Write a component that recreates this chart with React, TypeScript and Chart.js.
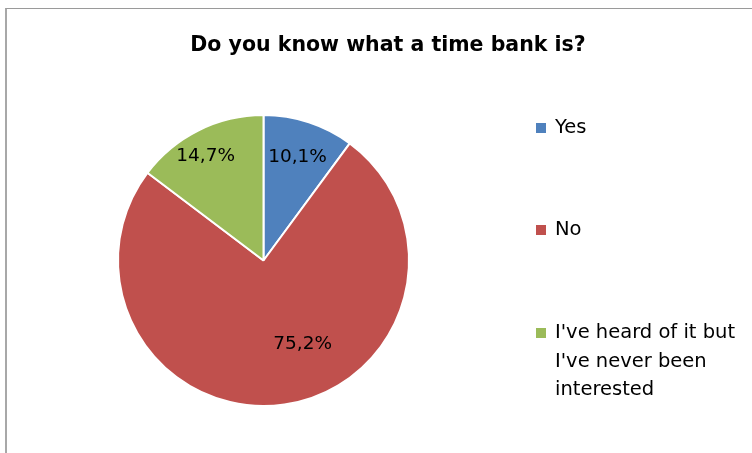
import React, { useEffect, useRef } from "react";
import { Chart, registerables } from "chart.js";

Chart.register(...registerables);

const TITLE = "Do you know what a time bank is?";
const CATEGORIES = ["Yes", "No", "I've heard of it but I've never been interested"];
const LEGEND_LINES = [["Yes"], ["No"], ["I've heard of it but", "I've never been", "interested"]];
const VALUES = [10.1, 75.2, 14.7];
const VALUE_LABELS = ["10,1%", "75,2%", "14,7%"];
const COLORS = ["#4F81BD", "#C0504D", "#9BBB59"];

const FONT = "'DejaVu Sans', sans-serif";

const overlayPlugin = {
  id: "overlay",
  afterDraw(chart: any) {
    const ctx = chart.ctx as CanvasRenderingContext2D;
    ctx.save();
    // title
    ctx.fillStyle = "#000";
    ctx.font = `bold 20.5px ${FONT}`;
    ctx.textAlign = "center";
    ctx.textBaseline = "alphabetic";
    ctx.fillText(TITLE, 388, 51);

    // data labels
    const meta = chart.getDatasetMeta(0);
    const nudges = [
      { f: 0.75, dx: 0, dy: 0 },
      { f: 0.58, dx: 27, dy: 0 },
      { f: 0.8, dx: -6, dy: 0 },
    ];
    ctx.font = `18.5px ${FONT}`;
    ctx.textBaseline = "middle";
    meta.data.forEach((arc: any, i: number) => {
      const { x, y, startAngle, endAngle, outerRadius } = arc.getProps(
        ["x", "y", "startAngle", "endAngle", "outerRadius"],
        true
      );
      const mid = (startAngle + endAngle) / 2;
      const n = nudges[i];
      const px = x + Math.cos(mid) * outerRadius * n.f + n.dx;
      const py = y + Math.sin(mid) * outerRadius * n.f + n.dy;
      ctx.fillText(VALUE_LABELS[i], px, py);
    });

    // legend
    const itemY = [128, 230, 333];
    const lineH = 28.5;
    ctx.textAlign = "left";
    ctx.font = `19.5px ${FONT}`;
    LEGEND_LINES.forEach((lines, i) => {
      ctx.fillStyle = COLORS[i];
      ctx.fillRect(536, itemY[i] - 5, 10, 10);
      ctx.fillStyle = "#000";
      lines.forEach((ln, j) => {
        ctx.fillText(ln, 555, itemY[i] + j * lineH);
      });
    });
    ctx.restore();
  },
};

export default function App() {
  const ref = useRef<HTMLCanvasElement | null>(null);
  useEffect(() => {
    if (!ref.current) return;
    const chart = new Chart(ref.current, {
      type: "pie",
      data: {
        labels: CATEGORIES,
        datasets: [
          {
            data: VALUES,
            backgroundColor: COLORS,
            borderColor: "#ffffff",
            borderWidth: 2,
          },
        ],
      },
      options: {
        animation: false,
        responsive: false,
        layout: { padding: { top: 114, bottom: 46, left: 117, right: 342 } },
        plugins: {
          legend: { display: false },
          title: { display: false },
          tooltip: { enabled: false },
        },
      },
      plugins: [overlayPlugin],
    });
    return () => chart.destroy();
  }, []);

  return (
    <div style={{ position: "fixed", left: 0, top: 0, width: 752, height: 453, background: "#fff", overflow: "hidden" }}>
      <div
        style={{
          position: "absolute",
          left: 5,
          top: 8,
          width: 800,
          height: 500,
          borderTop: "1px solid #9a9a9a",
          borderLeft: "2px solid #a8a8a8",
        }}
      />
      <canvas ref={ref} width={752} height={453} style={{ position: "absolute", left: 0, top: 0 }} />
    </div>
  );
}
